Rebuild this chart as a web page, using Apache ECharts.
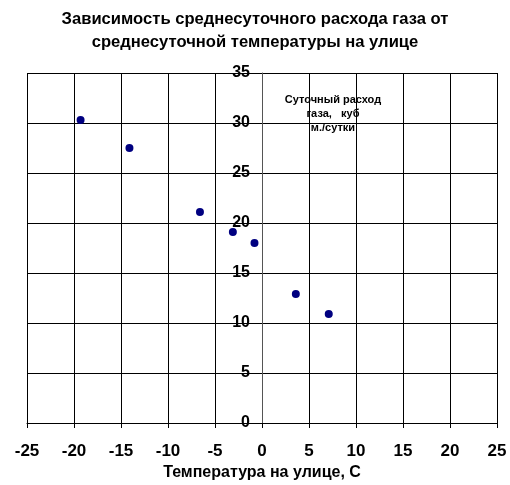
<!DOCTYPE html>
<html>
<head>
<meta charset="utf-8">
<script src="https://cdn.jsdelivr.net/npm/echarts@6/dist/echarts.min.js"></script>
<style>
  html, body { margin: 0; padding: 0; background: #fff; }
  #chart { width: 510px; height: 485px; }
</style>
</head>
<body>
<div id="chart"></div>
<script>
// температура на улице, C
const temps = [-19.3, -14.1, -6.6, -3.1, -0.8, 3.6, 7.1];
// суточный расход газа, куб м./сутки
const gasUse = [30.3, 27.5, 21.1, 19.1, 18.0, 12.9, 10.9];

const points = temps.map((t, i) => [t, gasUse[i]]);

const chart = echarts.init(document.getElementById('chart'));
const font = 'Arial, "Liberation Sans", sans-serif';

chart.setOption({
  animation: false,
  title: {
    text: 'Зависимость среднесуточного расхода газа от\nсреднесуточной температуры на улице',
    left: 'center',
    top: 3,
    textStyle: { fontFamily: font, fontSize: 16.6, fontWeight: 'bold', color: '#000', lineHeight: 23 }
  },
  graphic: [{
    type: 'text',
    x: 333,
    y: 93,
    style: {
      text: 'Суточный расход\nгаза,   куб\nм./сутки',
      font: 'bold 11px ' + font,
      fill: '#000',
      textAlign: 'center',
      lineHeight: 14
    }
  }],
  grid: { left: 27, right: 13, top: 73, bottom: 62, outerBoundsMode: 'none' },
  xAxis: {
    type: 'value',
    min: -25, max: 25, interval: 5,
    name: 'Температура на улице, С',
    nameLocation: 'middle',
    nameGap: 41,
    nameTextStyle: { fontFamily: font, fontSize: 16, fontWeight: 'bold', color: '#000' },
    axisLine: { onZero: false, lineStyle: { color: '#000' } },
    axisTick: { show: true, length: 5, lineStyle: { color: '#000' } },
    axisLabel: { fontFamily: font, fontSize: 17, fontWeight: 'bold', color: '#000', margin: 20 },
    splitLine: { show: true, lineStyle: { color: '#000' } }
  },
  yAxis: {
    type: 'value',
    min: 0, max: 35, interval: 5,
    offset: -235,
    axisLine: { onZero: false, lineStyle: { color: '#555' } },
    axisTick: { show: true, length: 5, lineStyle: { color: '#000' } },
    axisLabel: { fontFamily: font, fontSize: 16, fontWeight: 'bold', color: '#000', margin: 12 },
    splitLine: { show: true, lineStyle: { color: '#000' } }
  },
  series: [{
    type: 'scatter',
    data: points,
    symbol: 'circle',
    symbolSize: 8,
    itemStyle: { color: '#000080', opacity: 1 }
  }]
});
</script>
</body>
</html>
